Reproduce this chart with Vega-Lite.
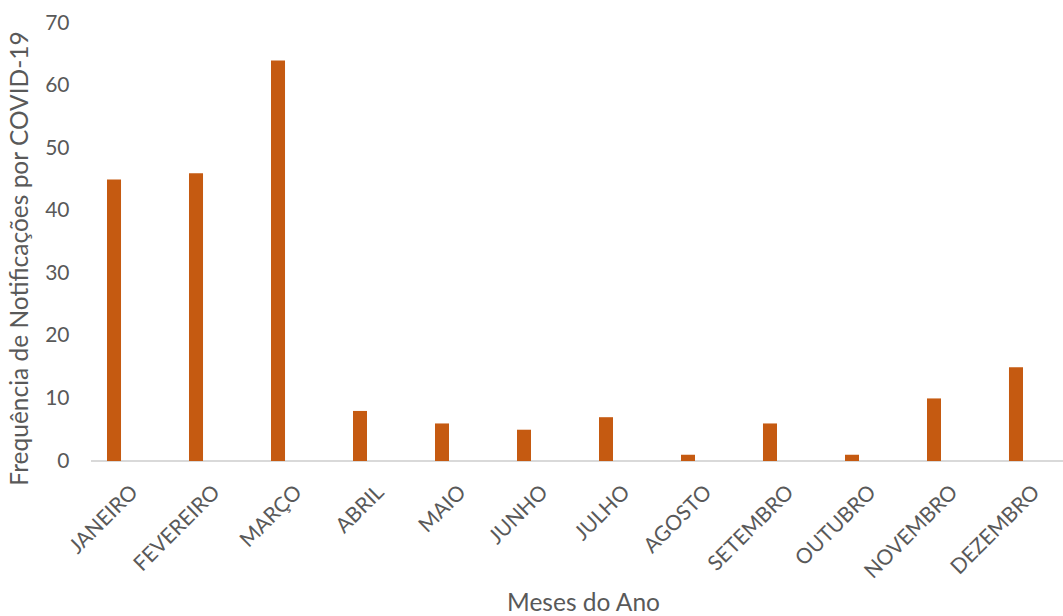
{
  "$schema": "https://vega.github.io/schema/vega-lite/v6.json",
  "width": 972,
  "height": 438,
  "autosize": {"type": "none"},
  "padding": {"left": 91, "top": 23, "right": 0, "bottom": 155},
  "background": "#ffffff",
  "config": {
    "view": {"stroke": null},
    "font": "Lato",
    "axis": {
      "labelFont": "Lato",
      "titleFont": "Lato",
      "labelColor": "#595959",
      "titleColor": "#595959",
      "labelFontSize": 21,
      "titleFontSize": 24.5,
      "labelFontWeight": "normal",
      "titleFontWeight": "normal",
      "grid": false,
      "ticks": false,
      "tickSize": 0
    }
  },
  "data": {
    "values": [
      {"mes": "JANEIRO", "casos": 45},
      {"mes": "FEVEREIRO", "casos": 46},
      {"mes": "MARÇO", "casos": 64},
      {"mes": "ABRIL", "casos": 8},
      {"mes": "MAIO", "casos": 6},
      {"mes": "JUNHO", "casos": 5},
      {"mes": "JULHO", "casos": 7},
      {"mes": "AGOSTO", "casos": 1},
      {"mes": "SETEMBRO", "casos": 6},
      {"mes": "OUTUBRO", "casos": 1},
      {"mes": "NOVEMBRO", "casos": 10},
      {"mes": "DEZEMBRO", "casos": 15}
    ]
  },
  "layer": [
    {
      "data": {"values": [{}]},
      "mark": {"type": "rule", "color": "#D9D9D9", "strokeWidth": 2},
      "encoding": {
        "y": {"datum": 0, "type": "quantitative"}
      }
    },
    {
      "mark": {"type": "bar", "color": "#C55A11"},
      "encoding": {
        "x": {
          "field": "mes",
          "type": "nominal",
          "sort": null,
          "scale": {"range": [-18, 966], "paddingInner": 0.829, "paddingOuter": 0.4146},
          "axis": {
            "title": "Meses do Ano",
            "domain": false,
            "labelAngle": -45,
            "labelOffset": 13,
            "labelPadding": 20,
            "titlePadding": 10,
            "titleX": 492
          }
        },
        "y": {
          "field": "casos",
          "type": "quantitative",
          "scale": {"domain": [0, 70], "nice": false},
          "axis": {
            "title": "Frequência de Notificações por COVID-19",
            "values": [0, 10, 20, 30, 40, 50, 60, 70],
            "domain": false,
            "labelPadding": 22,
            "titlePadding": 12,
            "titleY": 235
          }
        }
      }
    }
  ]
}
